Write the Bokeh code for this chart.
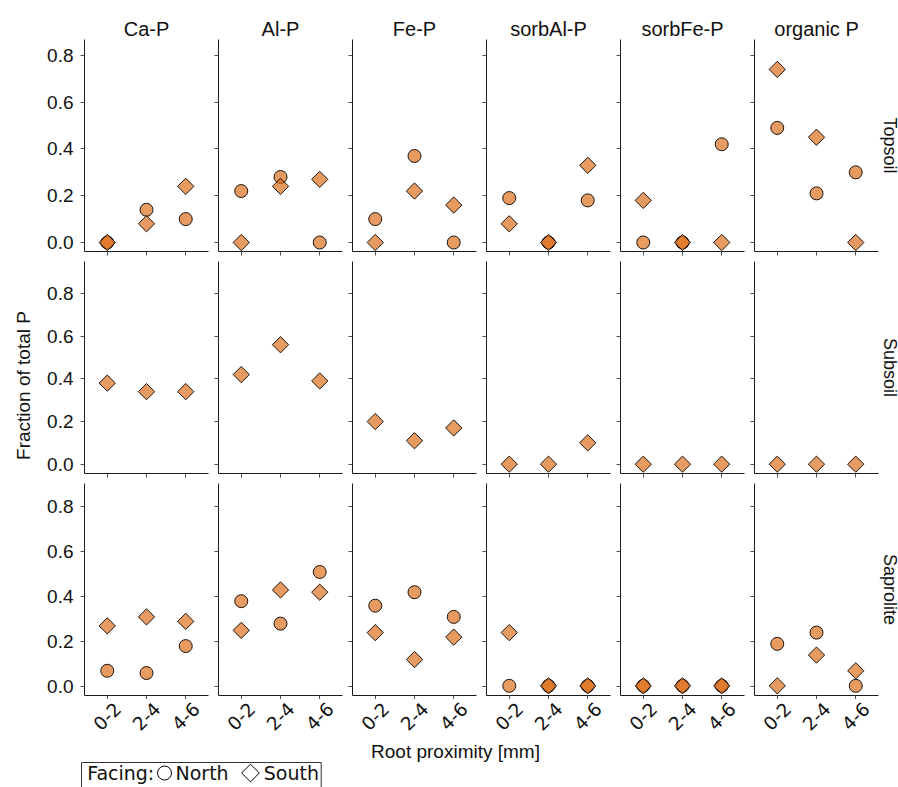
import math
from bokeh.plotting import figure
from bokeh.models import (Range1d, FixedTicker, Label, LabelSet, ColumnDataSource,
                          PrintfTickFormatter, Title)
from bokeh.layouts import column, row
from bokeh.embed import file_html
from bokeh.resources import INLINE
from bokeh.core.properties import value

# ---------------- data ----------------
fractions = ["Ca-P", "Al-P", "Fe-P", "sorbAl-P", "sorbFe-P", "organic P"]
horizons = ["Topsoil", "Subsoil", "Saprolite"]
proximity = ["0-2", "2-4", "4-6"]
prox_pos = [1, 2, 3]
y_ticks = [0.0, 0.2, 0.4, 0.6, 0.8]

# one inner list per fraction (same order as `fractions`), values for 0-2, 2-4, 4-6 mm
topsoil_north = [[0.00, 0.14, 0.10], [0.22, 0.28, 0.00], [0.10, 0.37, 0.00],
                 [0.19, 0.00, 0.18], [0.00, 0.00, 0.42], [0.49, 0.21, 0.30]]
topsoil_south = [[0.00, 0.08, 0.24], [0.00, 0.24, 0.27], [0.00, 0.22, 0.16],
                 [0.08, 0.00, 0.33], [0.18, 0.00, 0.00], [0.74, 0.45, 0.00]]
subsoil_south = [[0.38, 0.34, 0.34], [0.42, 0.56, 0.39], [0.20, 0.11, 0.17],
                 [0.00, 0.00, 0.10], [0.00, 0.00, 0.00], [0.00, 0.00, 0.00]]
saprolite_north = [[0.07, 0.06, 0.18], [0.38, 0.28, 0.51], [0.36, 0.42, 0.31],
                   [0.003, 0.003, 0.003], [0.003, 0.003, 0.003], [0.19, 0.24, 0.003]]
saprolite_south = [[0.27, 0.31, 0.29], [0.25, 0.43, 0.42], [0.24, 0.12, 0.22],
                   [0.24, 0.003, 0.003], [0.003, 0.003, 0.003], [0.003, 0.14, 0.07]]

north_by_row = [topsoil_north, None, saprolite_north]
south_by_row = [topsoil_south, subsoil_south, saprolite_south]

# ---------------- style ----------------
ORANGE = "#DD6B15"
ALPHA = 0.68
SANS = "Liberation Sans"
TXT = "#111111"
FW, FH = 124, 212
LEFT_W = 40            # strip holding the y-axis title
COL1_LEFT = 44         # border left of first column (frame starts at 84)
COL6_RIGHT = 20
ylims = [(-0.0385, 0.868), (-0.0436, 0.950), (-0.040, 0.904)]


def borders(c):
    left = COL1_LEFT if c == 0 else 5
    right = COL6_RIGHT if c == 5 else 5
    return left, right


grid_rows = []
x_ranges = []
for r in range(3):
    figs = []
    for c in range(6):
        left, right = borders(c)
        top = 39 if r == 0 else 5
        bottom = 4 if r == 2 else 5
        xr = Range1d(0.42, 3.58)
        if r == 2:
            x_ranges.append(xr)
        p = figure(frame_width=FW, frame_height=FH, title=None,
                   x_range=xr, y_range=Range1d(*ylims[r]),
                   min_border_left=left, min_border_right=right,
                   min_border_top=top, min_border_bottom=bottom,
                   output_backend="svg", toolbar_location=None, tools="")
        p.grid.visible = False
        p.outline_line_color = None
        p.background_fill_color = "white"
        p.border_fill_color = "white"
        p.xaxis.ticker = FixedTicker(ticks=prox_pos)
        p.yaxis.ticker = FixedTicker(ticks=y_ticks)
        p.yaxis.formatter = PrintfTickFormatter(format="%.1f")
        for ax in p.axis:
            ax.axis_line_color = "#1a1a1a"
            ax.axis_line_width = 1
            ax.major_tick_line_color = "#4d4d4d"
            ax.major_tick_out = 4
            ax.major_tick_in = 0
            ax.minor_tick_line_color = None
        p.xaxis.major_label_text_color = None
        p.xaxis.major_label_standoff = 0
        if c == 0:
            p.yaxis.major_label_text_font_size = "19px"
            p.yaxis.major_label_text_font = SANS
            p.yaxis.major_label_text_color = TXT
            p.yaxis.major_label_standoff = 7
        else:
            p.yaxis.major_label_text_color = None
            p.yaxis.major_label_standoff = 0

        north = north_by_row[r]
        south = south_by_row[r]
        if north is not None:
            src_n = ColumnDataSource(dict(x=prox_pos, y=north[c]))
            p.scatter("x", "y", source=src_n, marker="circle", size=13,
                      fill_color=ORANGE, fill_alpha=ALPHA,
                      line_color="black", line_width=0.9)
        src_s = ColumnDataSource(dict(x=prox_pos, y=south[c]))
        p.scatter("x", "y", source=src_s, marker="square", angle=math.pi / 4,
                  size=11.5, fill_color=ORANGE, fill_alpha=ALPHA,
                  line_color="black", line_width=0.9)

        if r == 0:
            p.add_layout(Title(text=fractions[c], align="center", vertical_align="bottom",
                               standoff=0, text_font=SANS, text_font_size="20px",
                               text_font_style="normal", text_color=TXT), "above")
        if c == 5:
            p.add_layout(Title(text=horizons[r], align="center", vertical_align="middle",
                               standoff=0, text_font=SANS, text_font_size="18px",
                               text_font_style="normal", text_color=TXT), "right")
        figs.append(p)
    grid_rows.append(row(*figs, spacing=0))

# ---------------- x tick labels strip (shares x ranges with bottom row) ----------------
STRIP_H = 37
strip_figs = []
for c in range(6):
    left, right = borders(c)
    s = figure(frame_width=FW, frame_height=STRIP_H, title=None,
               x_range=x_ranges[c], y_range=Range1d(0, 1),
               min_border_left=left, min_border_right=right,
               min_border_top=0, min_border_bottom=0,
               x_axis_location=None, y_axis_location=None,
               output_backend="svg", toolbar_location=None, tools="")
    s.grid.visible = False
    s.outline_line_color = None
    s.border_fill_color = "white"
    lsrc = ColumnDataSource(dict(x=prox_pos, text=proximity))
    s.add_layout(LabelSet(x="x", y=20, y_units="screen", text="text",
                          source=lsrc, angle=math.pi / 4,
                          text_align="center", text_baseline="middle",
                          text_font=value("DejaVu Sans"),
                          text_font_size=value("18.5px"), text_color=TXT))
    strip_figs.append(s)
strip_row = row(*strip_figs, spacing=0)

# ---------------- bottom: x title and legend ----------------
BW = 898 - LEFT_W
BH = 51
bot = figure(width=BW, height=BH, x_range=Range1d(0, BW), y_range=Range1d(BH, 0),
             min_border=0, x_axis_location=None, y_axis_location=None, title=None,
             output_backend="svg", toolbar_location=None, tools="")
bot.grid.visible = False
bot.outline_line_color = None
bot.border_fill_color = "white"

LEG_Y = 36.5
bot.add_layout(Label(x=415, y=15, text="Root proximity [mm]", text_align="center",
                     text_baseline="middle", text_font=SANS, text_font_size="19px",
                     text_color=TXT))
bot.quad(left=[41], right=[280.7], top=[26], bottom=[70], fill_color=None,
         line_color="#333333", line_width=1)
bot.add_layout(Label(x=46.7, y=LEG_Y, text="Facing:", text_align="left",
                     text_baseline="middle", text_font="DejaVu Sans",
                     text_font_size="19px", text_color=TXT))
bot.scatter(x=[124], y=[LEG_Y], marker="circle", size=14, fill_color=None,
            line_color="black", line_width=1)
bot.add_layout(Label(x=135, y=LEG_Y, text="North", text_align="left",
                     text_baseline="middle", text_font="DejaVu Sans",
                     text_font_size="19px", text_color=TXT))
bot.scatter(x=[210], y=[LEG_Y], marker="square", angle=math.pi / 4, size=12.5,
            fill_color=None, line_color="black", line_width=1)
bot.add_layout(Label(x=223.3, y=LEG_Y, text="South", text_align="left",
                     text_baseline="middle", text_font="DejaVu Sans",
                     text_font_size="19px", text_color=TXT))

# ---------------- left strip: y-axis title ----------------
TOTAL_H = 787
lf = figure(width=LEFT_W, height=TOTAL_H, x_range=Range1d(0, 1), y_range=Range1d(0, 1),
            min_border=0, x_axis_location=None, y_axis_location=None, title=None,
            output_backend="svg", toolbar_location=None, tools="")
lf.grid.visible = False
lf.outline_line_color = None
lf.border_fill_color = "white"
lf.add_layout(Label(x=22.5, y=TOTAL_H - 385, x_units="screen", y_units="screen",
                    text="Fraction of total P", angle=math.pi / 2,
                    text_align="center", text_baseline="middle",
                    text_font=SANS, text_font_size="19px", text_color=TXT))

layout = row(lf, column(*grid_rows, strip_row, bot, spacing=0), spacing=0)
open("out.html", "w").write(file_html(layout, INLINE))
